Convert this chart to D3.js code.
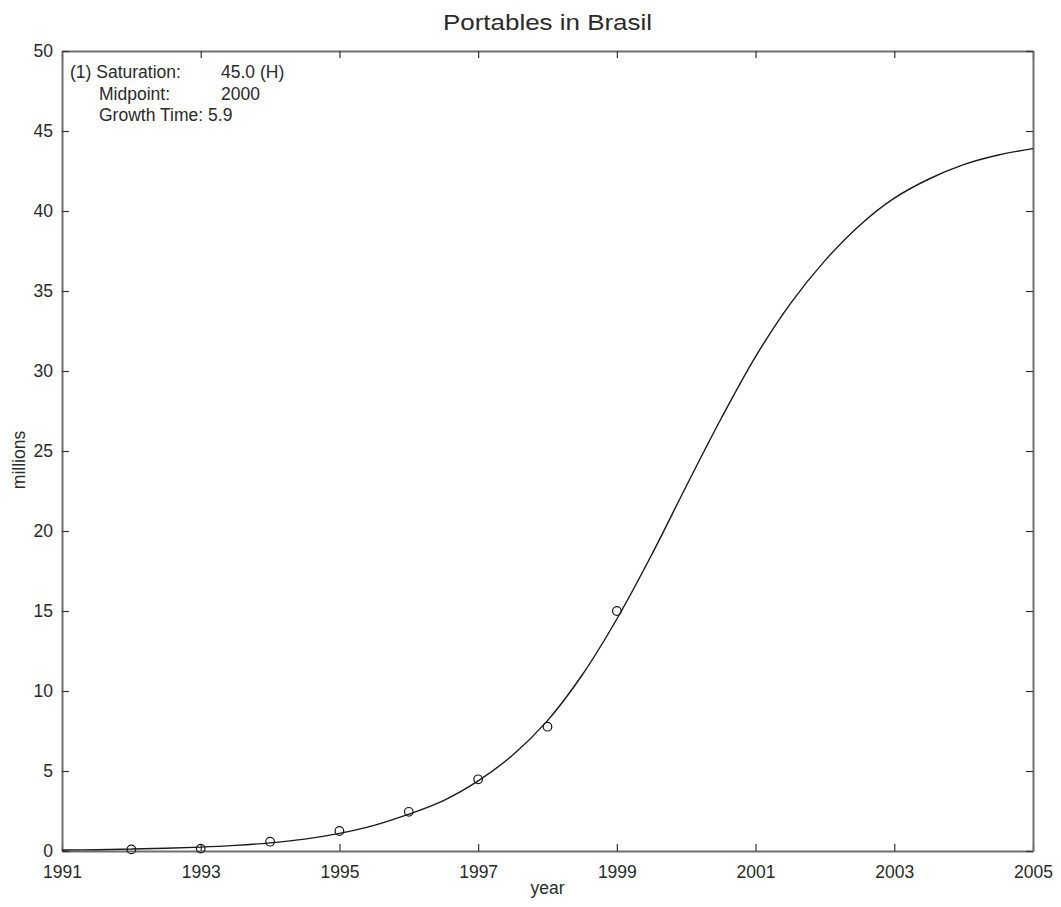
<!DOCTYPE html>
<html>
<head>
<meta charset="utf-8">
<script src="https://cdn.jsdelivr.net/npm/d3@7"></script>
<style>
  html, body { margin: 0; padding: 0; background: #fff; }
  svg { display: block; }
  text { font-family: "Liberation Sans", Arial, Helvetica, sans-serif; fill: #2a2a2a; }
</style>
</head>
<body>
<svg id="chart" width="1061" height="907"></svg>
<script>
// Observed subscriber counts (millions)
const obsYears  = [1992, 1993, 1994, 1995, 1996, 1997, 1998, 1999];
const obsValues = [0.10, 0.15, 0.58, 1.25, 2.45, 4.48, 7.77, 15.0];

// Fitted logistic curve, sampled every half year
const fitYears  = [1991, 1991.5, 1992, 1992.5, 1993, 1993.5, 1994, 1994.5, 1995, 1995.5,
                   1996, 1996.5, 1997, 1997.5, 1998, 1998.5, 1999, 1999.5, 2000, 2000.5,
                   2001, 2001.5, 2002, 2002.5, 2003, 2003.5, 2004, 2004.5, 2005];
const fitValues = [0.06, 0.08, 0.12, 0.17, 0.24, 0.35, 0.51, 0.74, 1.10, 1.60,
                   2.30, 3.15, 4.38, 6.00, 8.15, 11.0, 14.5, 18.5, 22.8, 27.0,
                   30.9, 34.2, 36.9, 39.1, 40.8, 42.0, 42.9, 43.5, 43.9];

// Axis ticks
const xTicks = [1991, 1993, 1995, 1997, 1999, 2001, 2003, 2005];
const yTicks = [0, 5, 10, 15, 20, 25, 30, 35, 40, 45, 50];

// Fit parameters shown in the annotation
const fitLabels = ["(1) Saturation:", "Midpoint:", "Growth Time:"];
const fitParams = ["45.0 (H)", "2000", "5.9"];

const title = "Portables in Brasil";
const xTitle = "year";
const yTitle = "millions";

const svg = d3.select("#chart");
const m = { left: 62, right: 1033, top: 51, bottom: 851 };

const x = d3.scaleLinear().domain([1991, 2005]).range([m.left, m.right]);
const y = d3.scaleLinear().domain([0, 50]).range([m.bottom, m.top]);

const axisColor = "#6e6e6e";
const tick = 7;

function styleAxis(g) {
  g.select(".domain").attr("stroke", axisColor).attr("stroke-width", 2);
  g.selectAll(".tick line").attr("stroke", "#333").attr("stroke-width", 1.2);
  g.selectAll(".tick text")
    .attr("font-family", "'Liberation Sans', Arial, sans-serif")
    .attr("font-size", 17.5)
    .attr("fill", "#2a2a2a");
}

// bottom axis with labels
svg.append("g")
  .attr("transform", `translate(0,${m.bottom})`)
  .call(d3.axisBottom(x).tickValues(xTicks).tickFormat(d3.format("d"))
        .tickSizeInner(-tick).tickSizeOuter(0).tickPadding(15))
  .call(styleAxis);

// top frame
svg.append("g")
  .attr("transform", `translate(0,${m.top})`)
  .call(d3.axisTop(x).tickValues(xTicks).tickFormat("")
        .tickSizeInner(-tick).tickSizeOuter(0))
  .call(styleAxis);

// left axis with labels
svg.append("g")
  .attr("transform", `translate(${m.left},0)`)
  .call(d3.axisLeft(y).tickValues(yTicks).tickFormat(d3.format("d"))
        .tickSizeInner(-tick).tickSizeOuter(0).tickPadding(9))
  .call(styleAxis);

// right frame
svg.append("g")
  .attr("transform", `translate(${m.right},0)`)
  .call(d3.axisRight(y).tickValues(yTicks).tickFormat("")
        .tickSizeInner(-tick).tickSizeOuter(0))
  .call(styleAxis);

// fitted curve
const fit = fitYears.map((t, i) => [t, fitValues[i]]);
svg.append("path")
  .datum(fit)
  .attr("fill", "none")
  .attr("stroke", "#1a1a1a")
  .attr("stroke-width", 1.4)
  .attr("d", d3.line().x(d => x(d[0])).y(d => y(d[1])).curve(d3.curveCatmullRom));

// observed points
const obs = obsYears.map((t, i) => [t, obsValues[i]]);
svg.append("g")
  .selectAll("circle")
  .data(obs)
  .join("circle")
  .attr("cx", d => x(d[0]))
  .attr("cy", d => y(d[1]))
  .attr("r", 4.3)
  .attr("fill", "none")
  .attr("stroke", "#1a1a1a")
  .attr("stroke-width", 1.2);

// annotation block: labels, then values in a second column
const ann = svg.append("g").attr("font-size", 17.5);
const labelNodes = fitLabels.map((lab, i) =>
  ann.append("text")
    .attr("x", i === 0 ? 70 : 99)
    .attr("y", 78 + i * 21.7)
    .text(lab).node());
fitParams.forEach((val, i) => {
  let vx = 221;
  if (i === 2) {
    const b = labelNodes[2].getBBox();
    vx = b.x + b.width + 5;
  }
  ann.append("text")
    .attr("x", vx)
    .attr("y", 78 + i * 21.7)
    .text(val);
});

// titles
svg.append("text")
  .attr("x", (m.left + m.right) / 2)
  .attr("y", 30)
  .attr("text-anchor", "middle")
  .attr("font-size", 22)
  .attr("textLength", 209)
  .attr("lengthAdjust", "spacingAndGlyphs")
  .text(title);

svg.append("text")
  .attr("x", (m.left + m.right) / 2)
  .attr("y", 894)
  .attr("text-anchor", "middle")
  .attr("font-size", 17.5)
  .text(xTitle);

svg.append("text")
  .attr("transform", `translate(25,460) rotate(-90)`)
  .attr("text-anchor", "middle")
  .attr("font-size", 17.5)
  .text(yTitle);
</script>
</body>
</html>
